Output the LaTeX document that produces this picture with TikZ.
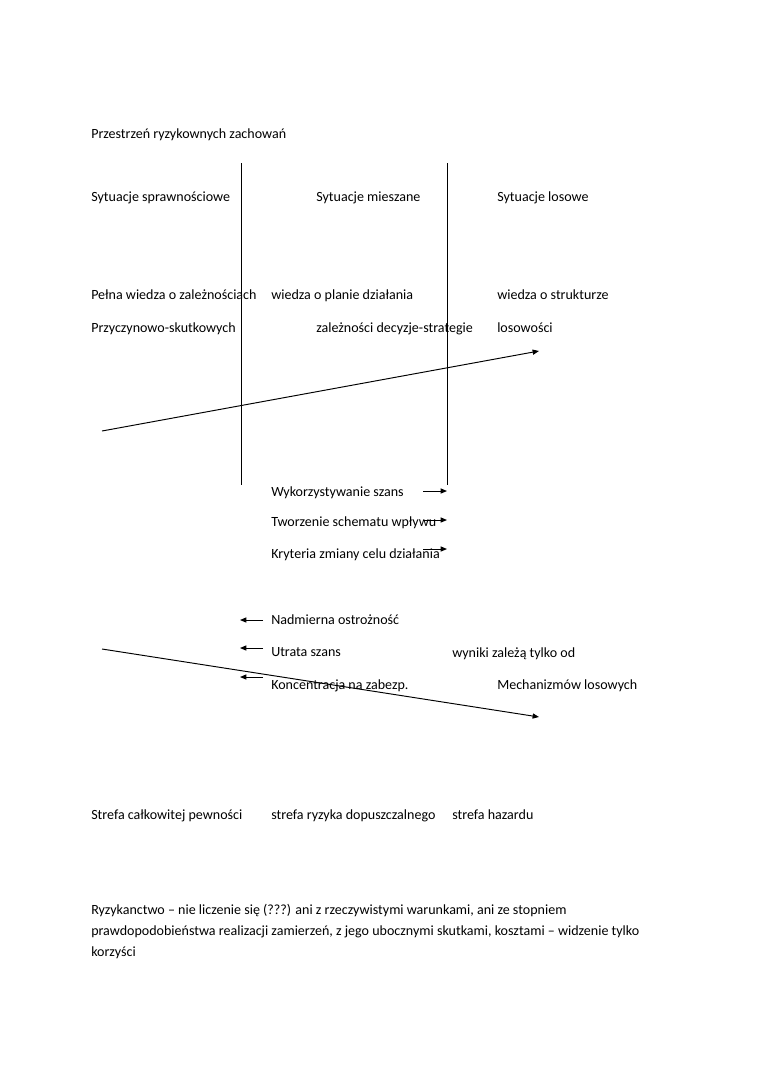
\documentclass[tikz,border=0pt]{standalone}
\usepackage{fontspec}
\setmainfont{Carlito}
\usetikzlibrary{arrows.meta}

\begin{document}
\begin{tikzpicture}[
        x=0.7833pt, y=-0.7833pt,
        txt/.style={anchor=base west, inner sep=0pt, font=\fontsize{11}{13.4}\selectfont},
        line/.style={line width=0.6pt},
        arr/.style={line width=0.75pt, -{Triangle[length=5pt,width=4pt]}}
      ]
        \useasboundingbox (0,0) rectangle (760,1075);

        % headings
        \node[txt] (title) at (91,138) {Przestrzeń ryzykownych zachowań};
        \node[txt] (sprawn) at (91,201) {Sytuacje sprawnościowe};
        \node[txt] (mieszane) at (316,201) {Sytuacje mieszane};
        \node[txt] (losowe) at (497,201) {Sytuacje losowe};

        \node[txt] (wiedzaA) at (91,299) {Pełna wiedza o zależnościach};
        \node[txt] (wiedzaB) at (271,299) {wiedza o planie działania};
        \node[txt] (wiedzaC) at (497,299) {wiedza o strukturze};
        \node[txt] (przyczA) at (91,332) {Przyczynowo-skutkowych};
        \node[txt] (przyczB) at (316,332) {zależności decyzje-strategie};
        \node[txt] (przyczC) at (497,332) {losowości};

        % dividing lines
        \coordinate (lineAtop) at (241,163);
        \coordinate (lineAbot) at (241,485);
        \coordinate (lineBtop) at (447,163);
        \coordinate (lineBbot) at (447,485);
        \draw[line] (lineAtop) -- (lineAbot);
        \draw[line] (lineBtop) -- (lineBbot);

        % rising arrow
        \coordinate (upStart) at (102,431);
        \coordinate (upEnd) at (539,351);
        \draw[arr] (upStart) -- (upEnd);

        % towards risk
        \node[txt] (wykorz) at (271,496) {Wykorzystywanie szans};
        \node[txt] (tworz) at (271,526) {Tworzenie schematu wpływu};
        \node[txt] (kryt) at (271,558) {Kryteria zmiany celu działania};
        \coordinate (wykS) at (423,491); \coordinate (wykE) at (447,491);
        \coordinate (twoS) at (423,520); \coordinate (twoE) at (447,520);
        \coordinate (kryS) at (423,549); \coordinate (kryE) at (447,549);
        \draw[arr] (wykS) -- (wykE);
        \draw[arr] (twoS) -- (twoE);
        \draw[arr] (kryS) -- (kryE);

        % towards safety
        \node[txt] (nadm) at (271,624) {Nadmierna ostrożność};
        \node[txt] (utrata) at (271,656) {Utrata szans};
        \node[txt] (konc) at (271,689) {Koncentracja na zabezp.};
        \node[txt] (wyniki) at (452,657) {wyniki zależą tylko od};
        \node[txt] (mechan) at (497,689) {Mechanizmów losowych};
        \coordinate (nadS) at (263,620); \coordinate (nadE) at (240,620);
        \coordinate (utrS) at (263,648); \coordinate (utrE) at (240,648);
        \coordinate (konS) at (263,677); \coordinate (konE) at (240,677);
        \draw[arr] (nadS) -- (nadE);
        \draw[arr] (utrS) -- (utrE);
        \draw[arr] (konS) -- (konE);

        % falling arrow
        \coordinate (downStart) at (102,649);
        \coordinate (downEnd) at (539,717);
        \draw[arr] (downStart) -- (downEnd);

        % zones
        \node[txt] (strefaA) at (91,819) {Strefa całkowitej pewności};
        \node[txt] (strefaB) at (271,819) {strefa ryzyka dopuszczalnego};
        \node[txt] (strefaC) at (452,819) {strefa hazardu};

        % definition
        \node[txt] (def1) at (91,914) {Ryzykanctwo -- nie liczenie się (???) ani z rzeczywistymi warunkami, ani ze stopniem};
        \node[txt] (def2) at (91,935) {prawdopodobieństwa realizacji zamierzeń, z jego ubocznymi skutkami, kosztami -- widzenie tylko};
        \node[txt] (def3) at (91,956) {korzyści};
      \end{tikzpicture}
\end{document}
